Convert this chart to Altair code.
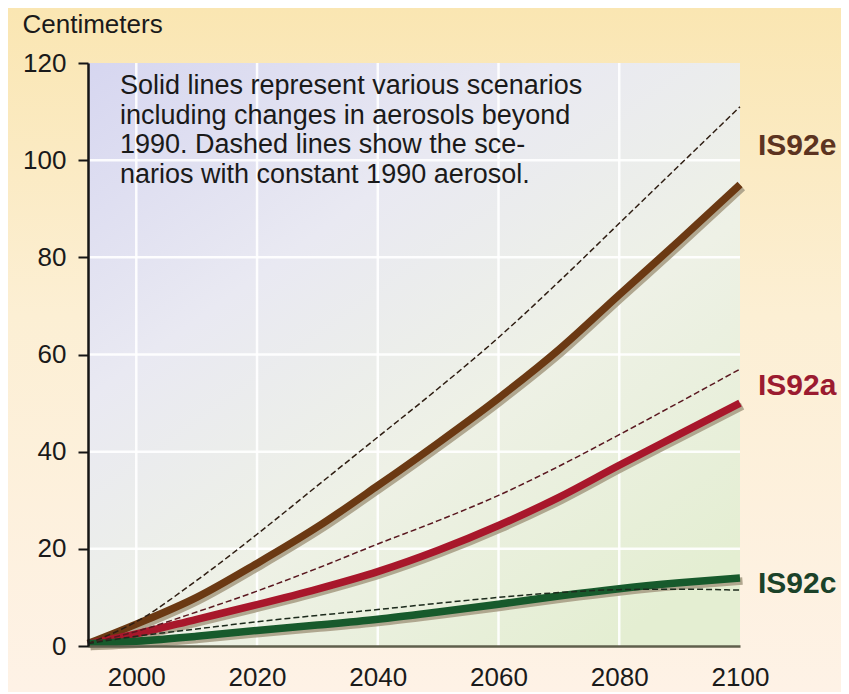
import altair as alt
import pandas as pd

# ---------------- data ----------------
years = [1992, 2000, 2010, 2020, 2030, 2040, 2050, 2060, 2070, 2080, 2090, 2100]
is92e_solid = [0.5, 4.5, 10, 17, 24.5, 33, 41.8, 51, 61, 72.3, 83.5, 95]
is92e_dashed = [0.5, 5, 13.5, 23, 33, 43, 53, 63.5, 75, 87, 99, 111]
is92a_solid = [0.5, 2.5, 5.5, 8.5, 11.7, 15.3, 19.7, 24.8, 30.6, 37.2, 43.6, 50]
is92a_dashed = [0.5, 3, 7, 11.3, 16, 21, 25.8, 31, 37, 43.5, 50.2, 57]
is92c_solid = [0.5, 1, 2, 3.2, 4.3, 5.5, 7, 8.6, 10.3, 11.8, 13, 14]
is92c_dashed = [0.5, 2, 3.5, 5, 6.3, 7.5, 8.8, 10, 11, 11.6, 11.7, 11.5]
scenarios = ["IS92e", "IS92a", "IS92c"]
x_ticks = [2000, 2020, 2040, 2060, 2080, 2100]
y_ticks = [0, 20, 40, 60, 80, 100, 120]
x_grid = [2000, 2020, 2040, 2060, 2080]
y_grid = [20, 40, 60, 80, 100]
y_title = "Centimeters"
note_lines = [
    "Solid lines represent various scenarios",
    "including changes in aerosols beyond",
    "1990. Dashed lines show the sce-",
    "narios with constant 1990 aerosol.",
]

series = {
    "IS92e": (is92e_solid, is92e_dashed),
    "IS92a": (is92a_solid, is92a_dashed),
    "IS92c": (is92c_solid, is92c_dashed),
}
solid_colors = {"IS92e": "#6b3913", "IS92a": "#a8172b", "IS92c": "#175a2c"}
dashed_colors = {"IS92e": "#2e1d12", "IS92a": "#5a1820", "IS92c": "#1c2a1c"}
label_colors = {"IS92e": "#5c3320", "IS92a": "#9b1b30", "IS92c": "#1b4229"}

rows = []
for name, (sol, das) in series.items():
    for yr, v in zip(years, sol):
        rows.append({"year": yr, "value": v, "scenario": name, "kind": "solid"})
    for yr, v in zip(years, das):
        rows.append({"year": yr, "value": v, "scenario": name, "kind": "dashed"})
df = pd.DataFrame(rows)

labels_df = pd.DataFrame({
    "scenario": scenarios,
    "year": [years[-1]] * 3,
    "value": [(series[s][0][-1] + series[s][1][-1]) / 2 for s in scenarios],
})

# ---------------- layout ----------------
W, H = 652, 583
PAD = {"left": 80, "top": 55, "right": 101, "bottom": 46}
FONT = "Liberation Sans"

x_scale = alt.Scale(domain=[1992, 2100], nice=False, zero=False)
y_scale = alt.Scale(domain=[0, 120], nice=False)

x_axis = alt.Axis(
    values=x_ticks, title=None, grid=False, ticks=False, format="d",
    domainColor="#5f5f4c", domainWidth=2.5,
    labelFont=FONT, labelFontSize=26, labelColor="#1a1a1a", labelPadding=18,
    labelFlush=False, labelOverlap=False, zindex=1,
)
y_axis = alt.Axis(
    values=y_ticks, title=y_title, grid=False,
    titleAngle=0, titleAlign="left", titleBaseline="alphabetic",
    titleX=-66, titleY=-31, titleFont=FONT, titleFontSize=26,
    titleFontWeight="normal", titleColor="#1a1a1a",
    tickSize=10, tickWidth=2, tickColor="#151515",
    domainColor="#151515", domainWidth=2.5,
    labelFont=FONT, labelFontSize=26, labelColor="#1a1a1a", labelPadding=12,
    labelFlush=False, labelOverlap=False, zindex=1,
)

def X(field="year:Q"):
    return alt.X(field, scale=x_scale, axis=x_axis)

def Y(field="value:Q"):
    return alt.Y(field, scale=y_scale, axis=y_axis)

one = pd.DataFrame({"a": [0]})

outer_bg = alt.Chart(one).mark_rect(
    color=alt.Gradient(
        gradient="linear", x1=0, y1=0, x2=0, y2=1,
        stops=[
            alt.GradientStop(offset=0, color="#fae6b2"),
            alt.GradientStop(offset=0.45, color="#fcefd4"),
            alt.GradientStop(offset=1, color="#fef2e6"),
        ],
    )
).encode(
    x=alt.value(-PAD["left"]), x2=alt.value(W + PAD["right"]),
    y=alt.value(-PAD["top"]), y2=alt.value(H + PAD["bottom"]),
)

panel_bg = alt.Chart(one).mark_rect(
    color=alt.Gradient(
        gradient="linear", x1=0, y1=0, x2=0.8, y2=1,
        stops=[
            alt.GradientStop(offset=0, color="#d6d6f0"),
            alt.GradientStop(offset=0.35, color="#e9e9f2"),
            alt.GradientStop(offset=0.65, color="#eef1e6"),
            alt.GradientStop(offset=1, color="#e4eed2"),
        ],
    )
).encode(x=alt.value(0), x2=alt.value(W), y=alt.value(0), y2=alt.value(H))

grid_x = alt.Chart(pd.DataFrame({"year": x_grid})).mark_rule(
    color="white", strokeWidth=2.5, opacity=0.9
).encode(x=X())
grid_y = alt.Chart(pd.DataFrame({"value": y_grid})).mark_rule(
    color="white", strokeWidth=2.5, opacity=0.9
).encode(y=Y())

layers = [outer_bg, panel_bg, grid_x, grid_y]
base = alt.Chart(df)
for name in scenarios:
    sel = base.transform_filter(
        (alt.datum.scenario == name) & (alt.datum.kind == "solid")
    )
    layers.append(
        sel.mark_line(color="#a89e86", strokeWidth=7.5, xOffset=2.5, yOffset=3,
                      interpolate="monotone", opacity=0.9)
        .encode(x=X(), y=Y())
    )
for name in scenarios:
    sel = base.transform_filter(
        (alt.datum.scenario == name) & (alt.datum.kind == "solid")
    )
    layers.append(
        sel.mark_line(color=solid_colors[name], strokeWidth=7.5, interpolate="monotone")
        .encode(x=X(), y=Y())
    )
for name in scenarios:
    sel = base.transform_filter(
        (alt.datum.scenario == name) & (alt.datum.kind == "dashed")
    )
    layers.append(
        sel.mark_line(color=dashed_colors[name], strokeWidth=1.5, strokeDash=[6, 3],
                      interpolate="monotone")
        .encode(x=X(), y=Y())
    )
for name in scenarios:
    layers.append(
        alt.Chart(labels_df).transform_filter(alt.datum.scenario == name)
        .mark_text(align="left", baseline="middle", dx=18, font=FONT,
                   fontSize=30, fontWeight="bold", color=label_colors[name])
        .encode(x=X(), y=Y(), text="scenario:N")
    )

note = alt.Chart(one).mark_text(
    align="left", baseline="alphabetic", font=FONT, fontSize=27,
    lineHeight=29.5, color="#1a1a1a"
).encode(x=alt.value(32), y=alt.value(31), text=alt.value(note_lines))
layers.append(note)

chart = alt.layer(*layers).properties(
    width=W, height=H, padding=PAD,
    autosize=alt.AutoSizeParams(type="none"),
    background="#fdf0dc",
).configure_view(stroke=None)

chart.save("out.html", embed_options={"renderer": "svg", "actions": False})
